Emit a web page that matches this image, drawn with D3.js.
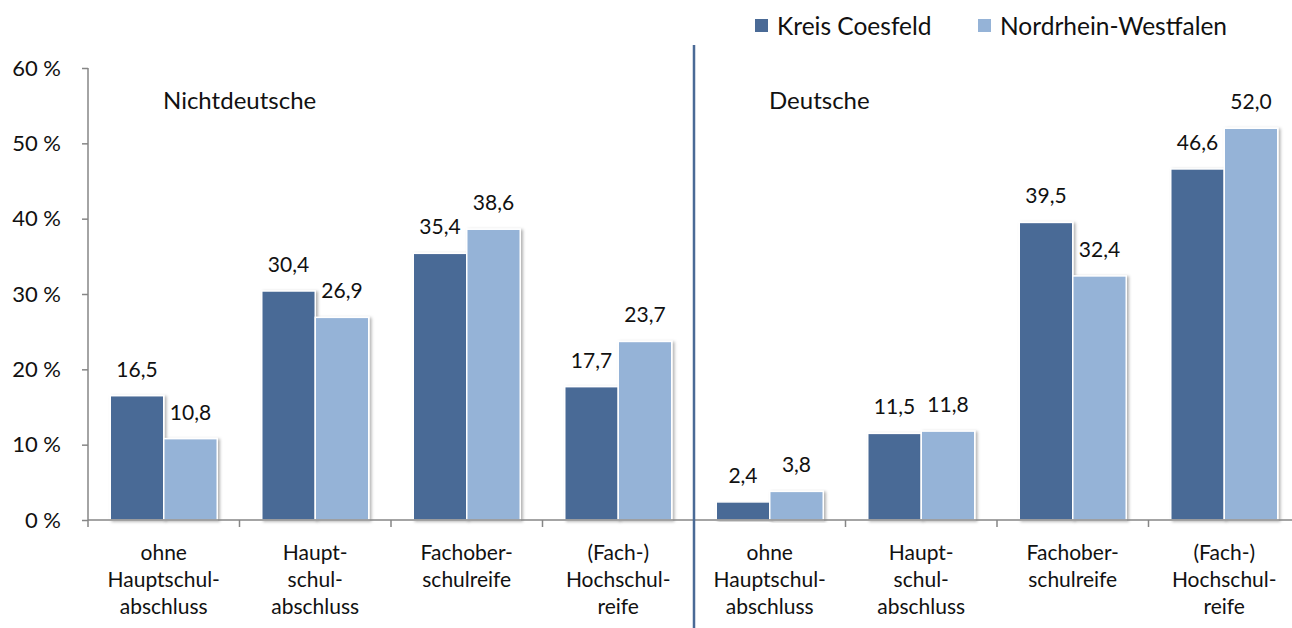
<!DOCTYPE html>
<html>
<head>
<meta charset="utf-8">
<script src="https://cdn.jsdelivr.net/npm/d3@7"></script>
<style>
  body { margin: 0; background: #fff; }
  svg text { font-family: Lato, "Open Sans", sans-serif; fill: #111; }
</style>
</head>
<body>
<div id="chart"></div>
<script>
// Daten
const categories = [
    ["ohne", "Hauptschul-", "abschluss"],
    ["Haupt-", "schul-", "abschluss"],
    ["Fachober-", "schulreife"],
    ["(Fach-)", "Hochschul-", "reife"],
    ["ohne", "Hauptschul-", "abschluss"],
    ["Haupt-", "schul-", "abschluss"],
    ["Fachober-", "schulreife"],
    ["(Fach-)", "Hochschul-", "reife"]
];
const seriesNames = ["Kreis Coesfeld", "Nordrhein-Westfalen"];
const coesfeld = [16.5, 30.4, 35.4, 17.7, 2.4, 11.5, 39.5, 46.6];
const nrw      = [10.8, 26.9, 38.6, 23.7, 3.8, 11.8, 32.4, 52.0];
const yTicks = [0, 10, 20, 30, 40, 50, 60];
const groupNames = ["Nichtdeutsche", "Deutsche"];

const width = 1292;
const height = 628;
const colors = ["#4a6a96", "#95b3d7"];
const margin = {left: 88, top: 68, bottom: 108};

const svg = d3.select("#chart").append("svg")
    .attr("width", width)
    .attr("height", height);

// Schatten für die Balken
const defs = svg.append("defs");
defs.append("filter")
    .attr("id", "shadow")
    .attr("x", "-20%").attr("y", "-5%")
    .attr("width", "150%").attr("height", "115%")
    .append("feDropShadow")
        .attr("dx", 2).attr("dy", 1)
        .attr("stdDeviation", 1.5)
        .attr("flood-color", "#000")
        .attr("flood-opacity", 0.3);

const x0 = d3.scaleBand()
    .domain(d3.range(categories.length))
    .range([margin.left, margin.left + 151.5 * categories.length])
    .paddingInner(0)
    .paddingOuter(0);

const x1 = d3.scaleBand()
    .domain([0, 1])
    .range([0, 107]);

const y = d3.scaleLinear()
    .domain([0, 60])
    .range([height - margin.bottom, margin.top]);

const data = categories.map((c, i) => ({i, values: [coesfeld[i], nrw[i]]}));

// Balken
const groups = svg.append("g")
    .selectAll("g")
    .data(data)
    .join("g")
        .attr("transform", d => `translate(${x0(d.i) + (x0.bandwidth() - 107) / 2},0)`);

groups.selectAll("rect")
    .data(d => d.values.map((v, s) => ({v, s})))
    .join("rect")
        .attr("x", d => x1(d.s))
        .attr("y", d => y(d.v))
        .attr("width", x1.bandwidth())
        .attr("height", d => y(0) - y(d.v))
        .attr("fill", d => colors[d.s])
        .attr("stroke", "#fff")
        .attr("stroke-width", 1.5)
        .attr("filter", "url(#shadow)");

// Werte
groups.selectAll("text")
    .data(d => d.values.map((v, s) => ({v, s})))
    .join("text")
        .attr("x", d => x1(d.s) + x1.bandwidth() / 2)
        .attr("y", d => y(d.v) - 19)
        .attr("text-anchor", "middle")
        .attr("font-size", 21)
        .text(d => d3.format(".1f")(d.v).replace(".", ","));

// y-Achse
const yAxis = svg.append("g")
    .attr("transform", `translate(${margin.left},0)`)
    .call(d3.axisLeft(y)
        .tickValues(yTicks)
        .tickSize(6)
        .tickPadding(21)
        .tickFormat(d => d + " %"));
yAxis.select(".domain").remove();
yAxis.selectAll(".tick line").attr("stroke", "#868686").attr("stroke-width", 1.5);
yAxis.selectAll(".tick text")
    .attr("font-size", 22)
    .attr("font-family", "Lato, sans-serif")
    .attr("fill", "#111");
yAxis.append("line")
    .attr("x1", 0).attr("x2", 0)
    .attr("y1", y(60)).attr("y2", y(0) + 7)
    .attr("stroke", "#868686")
    .attr("stroke-width", 1.5);

// x-Achse
const xAxis = svg.append("g");
xAxis.append("line")
    .attr("x1", margin.left).attr("x2", width)
    .attr("y1", y(0)).attr("y2", y(0))
    .attr("stroke", "#868686")
    .attr("stroke-width", 1.5);
xAxis.selectAll("line.tick")
    .data(d3.range(1, categories.length))
    .join("line")
        .attr("class", "tick")
        .attr("x1", i => x0(i)).attr("x2", i => x0(i))
        .attr("y1", y(0)).attr("y2", y(0) + 7)
        .attr("stroke", "#868686")
        .attr("stroke-width", 1.5);

// Kategorienbeschriftung
const catLabels = svg.append("g")
    .selectAll("text")
    .data(categories)
    .join("text")
        .attr("text-anchor", "middle")
        .attr("font-size", 21)
        .attr("x", (d, i) => x0(i) + x0.bandwidth() / 2)
        .attr("y", y(0) + 40);
catLabels.selectAll("tspan")
    .data(d => d)
    .join("tspan")
        .attr("x", function () { return d3.select(this.parentNode).attr("x"); })
        .attr("dy", (d, i) => i === 0 ? 0 : 27)
        .text(d => d);

// Trennlinie
svg.append("line")
    .attr("x1", x0(4)).attr("x2", x0(4))
    .attr("y1", 45).attr("y2", height)
    .attr("stroke", colors[0])
    .attr("stroke-width", 2.5);

// Gruppennamen
svg.append("g")
    .selectAll("text")
    .data(groupNames)
    .join("text")
        .attr("x", (d, i) => x0(i * 4) + 75)
        .attr("y", 109)
        .attr("font-size", 24)
        .text(d => d);

// Legende
const legend = svg.append("g")
    .selectAll("g")
    .data(seriesNames)
    .join("g")
        .attr("transform", (d, i) => `translate(${[755, 978][i]},19)`);
legend.append("rect")
    .attr("width", 13)
    .attr("height", 13)
    .attr("fill", (d, i) => colors[i]);
legend.append("text")
    .attr("x", 22)
    .attr("y", 16)
    .attr("font-size", 24.5)
    .text(d => d);
</script>
</body>
</html>
